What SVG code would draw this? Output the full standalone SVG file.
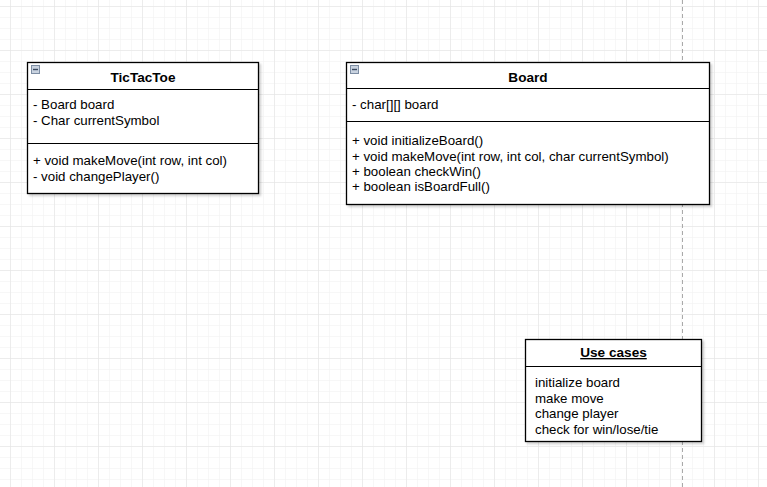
<svg xmlns="http://www.w3.org/2000/svg" width="767" height="487" viewBox="0 0 767 487">
<defs>
<pattern id="minor" x="10" y="6" width="11" height="11" patternUnits="userSpaceOnUse">
<path d="M0 0H11M0 0V11" fill="none" stroke="#f0f0f0" stroke-width="1"/>
</pattern>
<pattern id="major" x="10" y="6" width="44" height="44" patternUnits="userSpaceOnUse">
<path d="M0 0H44M0 0V44" fill="none" stroke="#e2e2e2" stroke-width="1"/>
</pattern>
<filter id="sh" x="-5%" y="-5%" width="115%" height="115%">
<feDropShadow dx="2" dy="2" stdDeviation="1" flood-color="#000" flood-opacity="0.18"/>
</filter>
</defs>
<style>
.box{fill:#fff;stroke:#000;stroke-width:1.3;filter:url(#sh)}
.ln{stroke:#000;stroke-width:1}
text{font-family:"Liberation Sans",Arial,sans-serif;font-size:13.3px;fill:#000}
.t{font-weight:bold;text-anchor:middle;font-size:13.6px}
.icon{fill:#c9d3e0;stroke:#7d8da3;stroke-width:1}
</style>
<rect width="767" height="487" fill="#fff"/>
<rect width="767" height="487" fill="url(#minor)"/>
<rect width="767" height="487" fill="url(#major)"/>
<g id="connectors">
<line x1="682.5" y1="0" x2="682.5" y2="487" stroke="#aaa" stroke-width="1" stroke-dasharray="4 3"/>
</g>
<g id="tictactoe">
<rect class="box" x="27.5" y="62.5" width="231" height="131"/>
<line class="ln" x1="27.5" y1="89.5" x2="258.5" y2="89.5"/>
<line class="ln" x1="27.5" y1="143.5" x2="258.5" y2="143.5"/>
<rect class="icon" x="31.5" y="65.5" width="8" height="8"/>
<line x1="33" y1="69.5" x2="38" y2="69.5" stroke="#3a4a60" stroke-width="1.4"/>
<text class="t" x="143" y="82">TicTacToe</text>
<text x="33" y="109">- Board board</text>
<text x="33" y="125">- Char currentSymbol</text>
<text x="33" y="165">+ void makeMove(int row, int col)</text>
<text x="33" y="181">- void changePlayer()</text>
</g>
<g id="board">
<rect class="box" x="346.5" y="62.5" width="363" height="142"/>
<line class="ln" x1="346.5" y1="88.5" x2="709.5" y2="88.5"/>
<line class="ln" x1="346.5" y1="121.5" x2="709.5" y2="121.5"/>
<rect class="icon" x="350.5" y="65.5" width="8" height="8"/>
<line x1="352" y1="69.5" x2="357" y2="69.5" stroke="#3a4a60" stroke-width="1.4"/>
<text class="t" x="528" y="82">Board</text>
<text x="352" y="109">- char[][] board</text>
<text x="352" y="145">+ void initializeBoard()</text>
<text x="352" y="161">+ void makeMove(int row, int col, char currentSymbol)</text>
<text x="352" y="176">+ boolean checkWin()</text>
<text x="352" y="191">+ boolean isBoardFull()</text>
</g>
<g id="usecases">
<rect class="box" x="525.5" y="339.5" width="176" height="102"/>
<line class="ln" x1="525.5" y1="366.5" x2="701.5" y2="366.5"/>
<text class="t" x="613.5" y="357" text-decoration="underline">Use cases</text>
<text x="535" y="387">initialize board</text>
<text x="535" y="403">make move</text>
<text x="535" y="418">change player</text>
<text x="535" y="434">check for win/lose/tie</text>
</g>
</svg>
